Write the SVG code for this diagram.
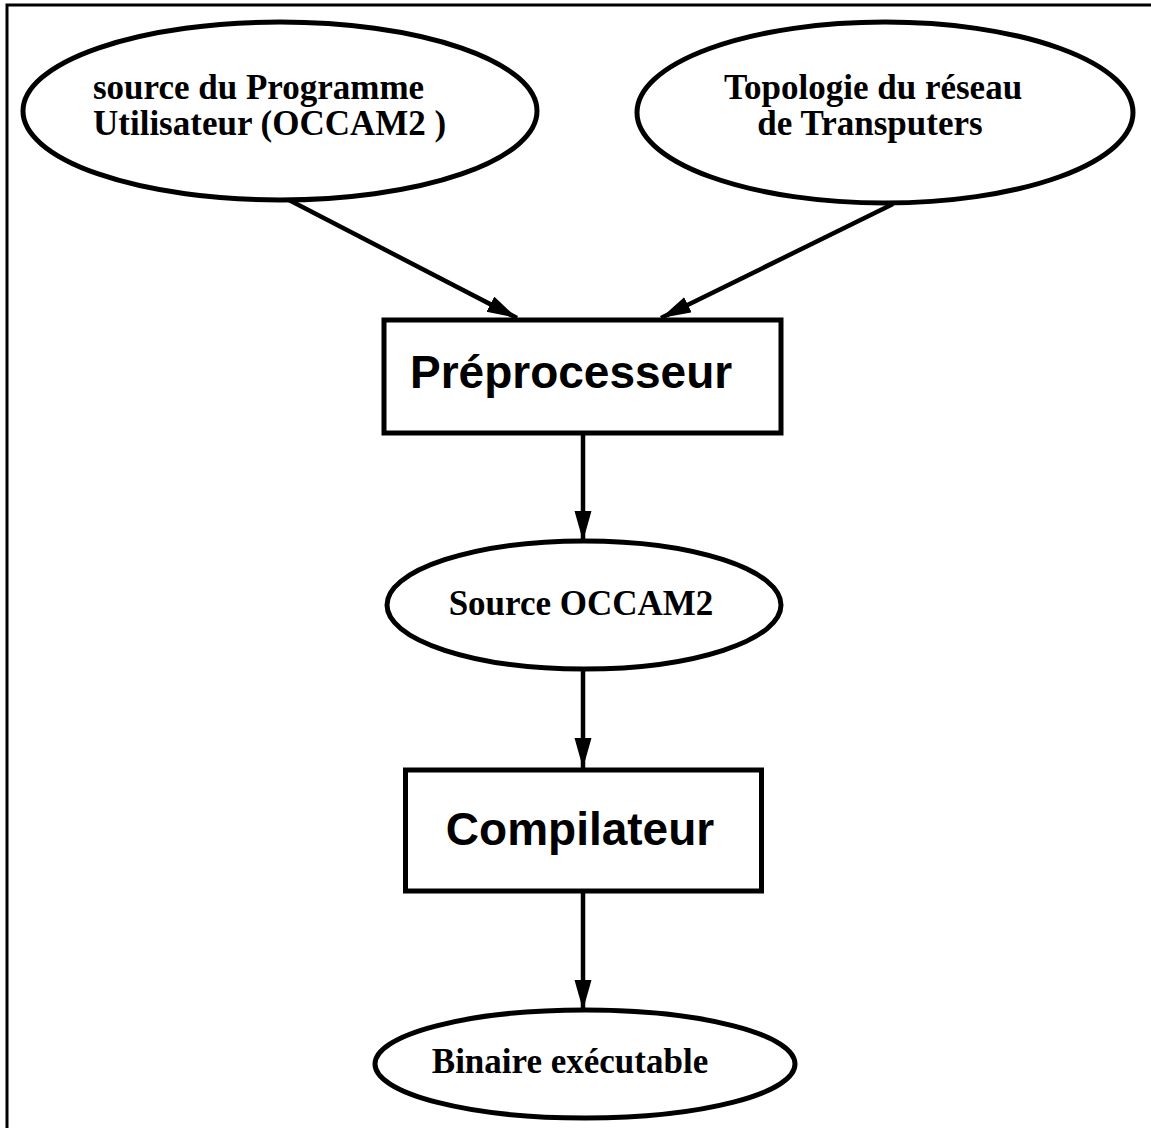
<svg xmlns="http://www.w3.org/2000/svg" width="1151" height="1128" viewBox="0 0 1151 1128">
<style>
.shape{fill:#fff;stroke:#000;stroke-width:5}
.edge{fill:none;stroke:#000;stroke-width:4.5}
.serif{font-family:"Liberation Serif","Times New Roman",serif;font-weight:bold;font-size:35px;fill:#000}
.sans{font-family:"Liberation Sans",Arial,sans-serif;font-weight:bold;font-size:46px;fill:#000}
</style>
<defs>
<marker id="arr" markerUnits="userSpaceOnUse" markerWidth="31" markerHeight="18" refX="30" refY="8.5" orient="auto">
<path d="M0,0 L30,8.5 L0,17 z" fill="#000"/>
</marker>
</defs>
<rect width="1151" height="1128" fill="#fff"/>
<path d="M7,1128 V5 H1151" fill="none" stroke="#000" stroke-width="3"/>
<g id="connectors">
<line class="edge" x1="287" y1="199" x2="517" y2="318" marker-end="url(#arr)"/>
<line class="edge" x1="893" y1="204" x2="661" y2="318" marker-end="url(#arr)"/>
<line class="edge" x1="583" y1="435" x2="583" y2="541" marker-end="url(#arr)"/>
<line class="edge" x1="583" y1="669" x2="583" y2="768" marker-end="url(#arr)"/>
<line class="edge" x1="583" y1="893" x2="583" y2="1010" marker-end="url(#arr)"/>
</g>
<g id="node-source-programme">
<ellipse class="shape" cx="280" cy="111" rx="257" ry="89"/>
<text class="serif" x="93" y="99">source du Programme</text>
<text class="serif" x="93" y="135">Utilisateur (OCCAM2 )</text>
</g>
<g id="node-topologie">
<ellipse class="shape" cx="885" cy="112.5" rx="248" ry="90.5"/>
<text class="serif" x="873" y="99" text-anchor="middle">Topologie du réseau</text>
<text class="serif" x="870" y="135" text-anchor="middle">de Transputers</text>
</g>
<g id="node-preprocesseur">
<rect class="shape" x="384" y="320" width="397" height="113"/>
<text class="sans" x="410" y="388">Préprocesseur</text>
</g>
<g id="node-source-occam2">
<ellipse class="shape" cx="584" cy="605" rx="197" ry="64"/>
<text class="serif" x="581" y="615" text-anchor="middle">Source OCCAM2</text>
</g>
<g id="node-compilateur">
<rect class="shape" x="405.5" y="770" width="356" height="121"/>
<text class="sans" x="580" y="845" text-anchor="middle">Compilateur</text>
</g>
<g id="node-binaire">
<ellipse class="shape" cx="585" cy="1064" rx="210" ry="54"/>
<text class="serif" x="570" y="1073" text-anchor="middle">Binaire exécutable</text>
</g>
</svg>
